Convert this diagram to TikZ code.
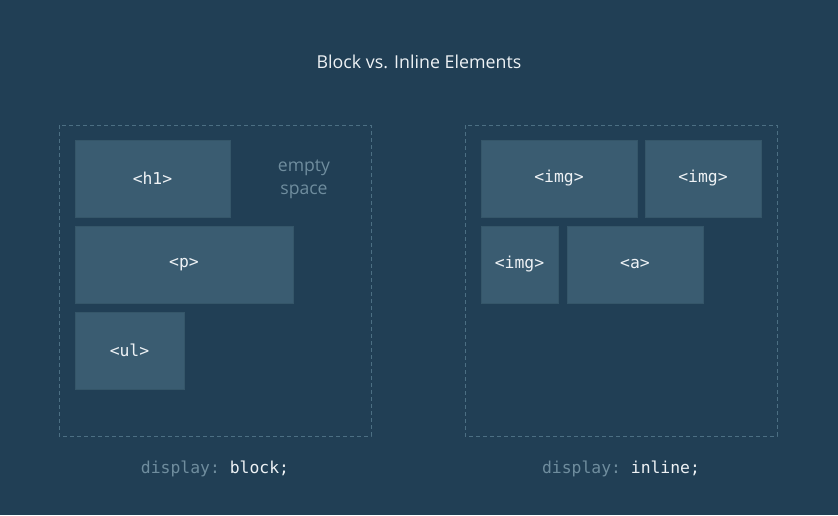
\documentclass[tikz,border=0pt]{standalone}
\usepackage{fontspec}
\setmainfont{Open Sans}
\setmonofont{DejaVu Sans Mono}
\definecolor{bg}{HTML}{213F55}
\definecolor{boxfill}{HTML}{3A5C71}
\definecolor{boxline}{HTML}{355669}
\definecolor{dashline}{HTML}{4C6F83}
\definecolor{dimtext}{HTML}{6F8D9E}
\definecolor{lighttext}{HTML}{EEF2F5}
\begin{document}
\begin{tikzpicture}[x=1pt,y=-1pt,
  elem/.style={draw=boxline,line width=1pt,fill=boxfill,text=lighttext,
    font=\ttfamily\fontsize{16.4}{19}\selectfont,inner sep=0pt},
  container/.style={draw=dashline,line width=0.8pt,dash pattern=on 4pt off 3pt},
  caption/.style={font=\ttfamily\fontsize{16.4}{19}\selectfont,text=dimtext}]
\fill[bg] (0,0) rectangle (838,515);
\useasboundingbox (0,0) rectangle (838,515);

\node[text=lighttext,font=\fontsize{17.8}{21}\selectfont] (title) at (419,62) {Block vs. Inline Elements};

% block container
\draw[container] (59,125) rectangle (371,436);
\node[elem,minimum width=155pt,minimum height=77pt] (h1) at (152.5,178.5) {<h1>};
\node[elem,minimum width=218pt,minimum height=77pt] (p) at (184,264.5) {<p>};
\node[elem,minimum width=109pt,minimum height=77pt] (ul) at (129.5,350.5) {<ul>};
\node[text=dimtext,font=\fontsize{17.6}{23}\selectfont,align=center] (empty) at (304,179) {empty\\space};

% inline container
\draw[container] (465,125) rectangle (777,436);
\node[elem,minimum width=156pt,minimum height=77pt] (img1) at (559,178.5) {<img>};
\node[elem,minimum width=116pt,minimum height=77pt] (img2) at (703,178.5) {<img>};
\node[elem,minimum width=77pt,minimum height=77pt] (img3) at (519.5,264.5) {<img>};
\node[elem,minimum width=136pt,minimum height=77pt] (a) at (635,264.5) {<a>};

% captions
\node[caption] (capblock) at (215,469) {display: \textcolor{lighttext}{block;}};
\node[caption] (capinline) at (621,469) {display: \textcolor{lighttext}{inline;}};
\end{tikzpicture}
\end{document}
